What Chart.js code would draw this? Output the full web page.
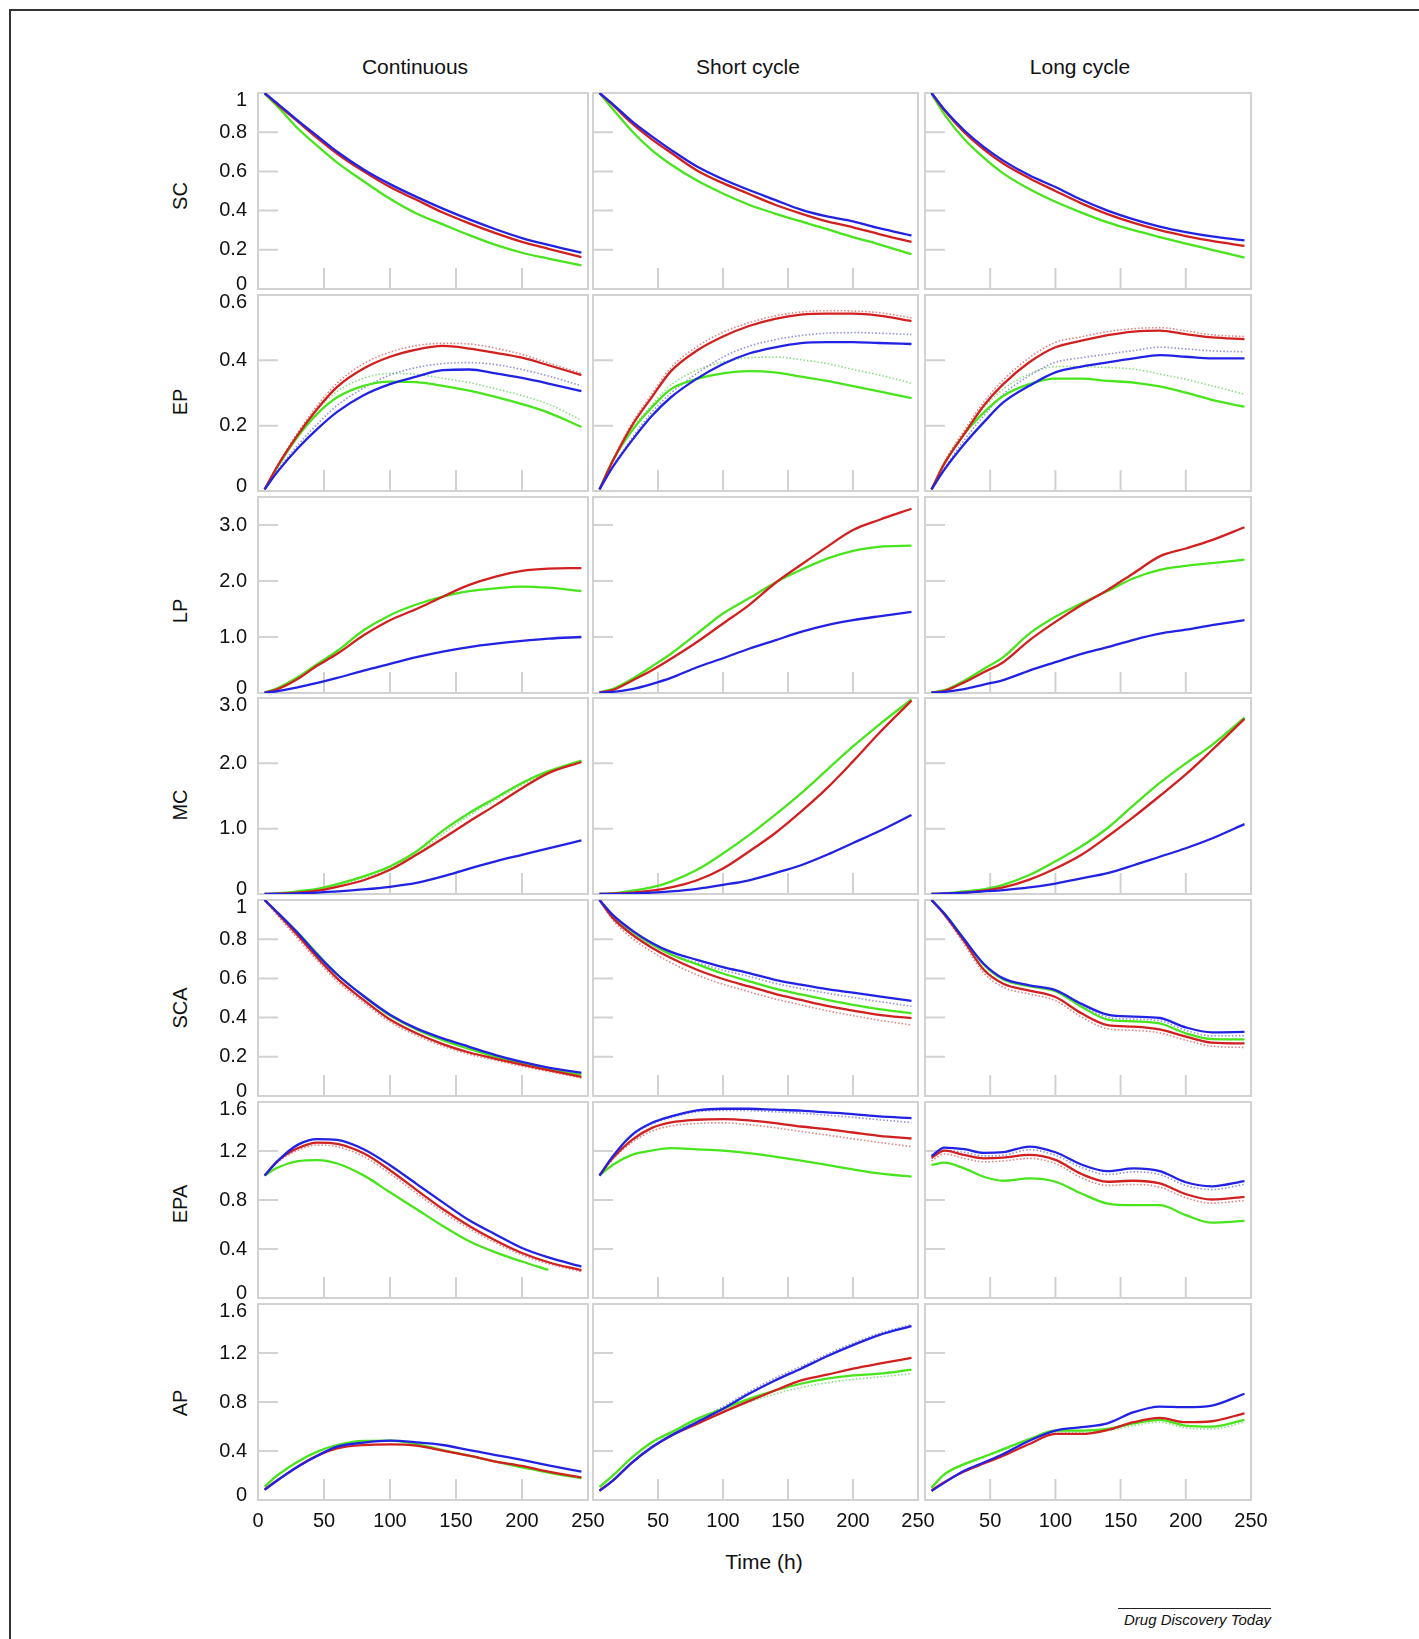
<!DOCTYPE html>
<html>
<head>
<meta charset="utf-8">
<title>Simulated populations</title>
<script src="https://cdn.jsdelivr.net/npm/chart.js@4.4.0/dist/chart.umd.min.js"></script>
<style>
  html, body { margin: 0; padding: 0; background: #fff; }
  body { width: 1419px; height: 1639px; position: relative; overflow: hidden;
         font-family: "Liberation Sans", Arial, Helvetica, sans-serif; color: #111; }
  #frame { position: absolute; left: 9px; top: 9px; width: 1420px; height: 1640px;
           border-top: 2px solid #333; border-left: 2px solid #333; }
  canvas.panel { position: absolute; }
  .lbl { position: absolute; white-space: nowrap; transform: translate(-50%, -50%); }
  .head { font-size: 21px; }
  .rowname { font-size: 20px; transform: translate(-50%, -50%) rotate(-90deg); }
  #footer { position: absolute; left: 1118px; top: 1608px; width: 153px; border-top: 1px solid #222;
            font-size: 15px; font-style: italic; text-align: right; padding-top: 2px; }
</style>
</head>
<body>
<div id="frame"></div>
<div class="lbl head" style="left:415px; top:67px">Continuous</div>
<div class="lbl head" style="left:748px; top:67px">Short cycle</div>
<div class="lbl head" style="left:1080px; top:67px">Long cycle</div>
<div class="lbl head" style="left:764px; top:1562px">Time (h)</div>
<div id="footer">Drug Discovery Today</div>

<script>
// sampling times (h), shared by every curve
const times = [5, 15, 30, 45, 60, 80, 100, 120, 140, 160, 180, 200, 220, 245];
const timeTicks = [0, 50, 100, 150, 200, 250];

const colNames = ['Continuous', 'Short cycle', 'Long cycle'];
const rowNames = ['SC', 'EP', 'LP', 'MC', 'SCA', 'EPA', 'AP'];
const rowMax = [1, 0.6, 3.5, 3, 1, 1.6, 1.6];

const scTicks = [0, 0.2, 0.4, 0.6, 0.8, 1];
const scTickLabels = ['0', '0.2', '0.4', '0.6', '0.8', '1'];
const epTicks = [0, 0.2, 0.4, 0.6];
const epTickLabels = ['0', '0.2', '0.4', '0.6'];
const lpTicks = [0, 1, 2, 3];
const lpTickLabels = ['0', '1.0', '2.0', '3.0'];
const epaTicks = [0, 0.4, 0.8, 1.2, 1.6];
const epaTickLabels = ['0', '0.4', '0.8', '1.2', '1.6'];

// 1 = continuous, 2 = short cycle, 3 = long cycle
// SC
const sc1Red   = [1.0, 0.94, 0.855, 0.77, 0.69, 0.6, 0.52, 0.455, 0.39, 0.335, 0.285, 0.24, 0.205, 0.163];
const sc1Blue  = [1.0, 0.945, 0.86, 0.78, 0.7, 0.61, 0.535, 0.47, 0.41, 0.355, 0.305, 0.26, 0.225, 0.185];
const sc1Green = [0.995, 0.93, 0.82, 0.73, 0.645, 0.55, 0.46, 0.385, 0.33, 0.275, 0.225, 0.185, 0.155, 0.12];
const sc2Red   = [1.0, 0.94, 0.845, 0.765, 0.695, 0.605, 0.54, 0.485, 0.43, 0.385, 0.345, 0.315, 0.28, 0.24];
const sc2Blue  = [1.0, 0.945, 0.855, 0.78, 0.71, 0.625, 0.56, 0.505, 0.455, 0.405, 0.37, 0.345, 0.31, 0.273];
const sc2Green = [1.0, 0.92, 0.805, 0.71, 0.635, 0.553, 0.487, 0.43, 0.385, 0.345, 0.305, 0.265, 0.228, 0.178];
const sc3Red   = [1.0, 0.91, 0.8, 0.712, 0.64, 0.565, 0.5, 0.437, 0.382, 0.337, 0.3, 0.27, 0.245, 0.22];
const sc3Blue  = [1.0, 0.915, 0.81, 0.725, 0.655, 0.58, 0.52, 0.455, 0.4, 0.355, 0.318, 0.29, 0.268, 0.248];
const sc3Green = [0.995, 0.89, 0.765, 0.67, 0.59, 0.51, 0.445, 0.39, 0.34, 0.3, 0.265, 0.232, 0.2, 0.16];

// EP
const ep1Red      = [0.005, 0.078, 0.171, 0.252, 0.319, 0.375, 0.411, 0.433, 0.444, 0.436, 0.423, 0.408, 0.385, 0.355];
const ep1RedDot   = [0.005, 0.08, 0.178, 0.262, 0.33, 0.39, 0.425, 0.445, 0.452, 0.45, 0.437, 0.418, 0.392, 0.36];
const ep1Blue     = [0.005, 0.06, 0.13, 0.19, 0.242, 0.293, 0.327, 0.35, 0.37, 0.372, 0.36, 0.346, 0.329, 0.306];
const ep1BlueDot  = [0.005, 0.064, 0.14, 0.205, 0.262, 0.315, 0.355, 0.378, 0.39, 0.393, 0.387, 0.372, 0.352, 0.322];
const ep1Green    = [0.005, 0.075, 0.166, 0.237, 0.287, 0.322, 0.335, 0.333, 0.322, 0.307, 0.288, 0.266, 0.24, 0.196];
const ep1GreenDot = [0.005, 0.078, 0.175, 0.25, 0.305, 0.345, 0.36, 0.357, 0.345, 0.332, 0.313, 0.292, 0.266, 0.217];
const ep2Red      = [0.005, 0.09, 0.2, 0.286, 0.367, 0.43, 0.473, 0.505, 0.527, 0.54, 0.543, 0.543, 0.537, 0.52];
const ep2RedDot   = [0.005, 0.093, 0.207, 0.295, 0.378, 0.442, 0.486, 0.515, 0.536, 0.548, 0.552, 0.551, 0.546, 0.53];
const ep2Blue     = [0.005, 0.072, 0.155, 0.229, 0.287, 0.344, 0.389, 0.421, 0.44, 0.453, 0.456, 0.456, 0.453, 0.45];
const ep2BlueDot  = [0.005, 0.075, 0.162, 0.24, 0.3, 0.36, 0.41, 0.443, 0.463, 0.476, 0.483, 0.485, 0.483, 0.479];
const ep2Green    = [0.005, 0.092, 0.185, 0.255, 0.312, 0.343, 0.36, 0.367, 0.363, 0.35, 0.337, 0.321, 0.305, 0.284];
const ep2GreenDot = [0.005, 0.094, 0.19, 0.262, 0.325, 0.37, 0.395, 0.408, 0.41, 0.402, 0.39, 0.372, 0.355, 0.33];
const ep3Red      = [0.005, 0.085, 0.174, 0.261, 0.327, 0.394, 0.44, 0.46, 0.477, 0.488, 0.491, 0.48, 0.47, 0.465];
const ep3RedDot   = [0.005, 0.09, 0.185, 0.272, 0.34, 0.408, 0.455, 0.472, 0.488, 0.497, 0.5, 0.49, 0.478, 0.473];
const ep3Blue     = [0.005, 0.066, 0.143, 0.21, 0.271, 0.322, 0.363, 0.381, 0.394, 0.406, 0.416, 0.411, 0.406, 0.406];
const ep3BlueDot  = [0.005, 0.07, 0.155, 0.23, 0.296, 0.353, 0.394, 0.408, 0.419, 0.43, 0.44, 0.435, 0.429, 0.426];
const ep3Green    = [0.005, 0.085, 0.174, 0.24, 0.291, 0.327, 0.344, 0.344, 0.337, 0.332, 0.32, 0.301, 0.279, 0.258];
const ep3GreenDot = [0.005, 0.087, 0.178, 0.255, 0.312, 0.358, 0.381, 0.381, 0.378, 0.373, 0.358, 0.342, 0.322, 0.296];

// LP
const lp1Red   = [0.006, 0.07, 0.25, 0.49, 0.7, 1.03, 1.3, 1.5, 1.72, 1.93, 2.08, 2.18, 2.22, 2.23];
const lp1Blue  = [0.005, 0.035, 0.1, 0.18, 0.27, 0.4, 0.52, 0.64, 0.74, 0.82, 0.88, 0.93, 0.97, 1.0];
const lp1Green = [0.01, 0.09, 0.28, 0.52, 0.75, 1.12, 1.39, 1.58, 1.72, 1.82, 1.87, 1.9, 1.88, 1.82];
const lp2Red   = [0.01, 0.05, 0.22, 0.4, 0.61, 0.91, 1.24, 1.57, 1.96, 2.29, 2.61, 2.91, 3.09, 3.29];
const lp2Blue  = [0.005, 0.02, 0.07, 0.16, 0.27, 0.46, 0.62, 0.79, 0.94, 1.09, 1.21, 1.3, 1.37, 1.45];
const lp2Green = [0.01, 0.07, 0.25, 0.47, 0.7, 1.06, 1.42, 1.69, 1.97, 2.2, 2.4, 2.54, 2.61, 2.63];
const lp3Red   = [0.01, 0.04, 0.19, 0.37, 0.55, 0.94, 1.27, 1.57, 1.84, 2.14, 2.44, 2.58, 2.73, 2.96];
const lp3Blue  = [0.005, 0.02, 0.07, 0.15, 0.23, 0.4, 0.55, 0.7, 0.82, 0.95, 1.06, 1.13, 1.21, 1.3];
const lp3Green = [0.01, 0.05, 0.22, 0.43, 0.64, 1.06, 1.36, 1.6, 1.82, 2.05, 2.2, 2.27, 2.32, 2.38];

// MC
const mc1Red      = [0, 0.005, 0.02, 0.05, 0.11, 0.21, 0.37, 0.6, 0.85, 1.11, 1.36, 1.62, 1.85, 2.02];
const mc1Blue     = [0, 0, 0.01, 0.02, 0.04, 0.07, 0.11, 0.17, 0.27, 0.39, 0.5, 0.6, 0.7, 0.82];
const mc1Green    = [0, 0.01, 0.04, 0.08, 0.15, 0.27, 0.42, 0.65, 0.97, 1.24, 1.47, 1.7, 1.88, 2.04];
const mc1GreenDot = [0, 0.01, 0.035, 0.07, 0.13, 0.245, 0.39, 0.61, 0.92, 1.2, 1.44, 1.67, 1.86, 2.02];
const mc2Red   = [0, 0.005, 0.02, 0.05, 0.1, 0.21, 0.39, 0.65, 0.93, 1.26, 1.62, 2.03, 2.46, 2.96];
const mc2Blue  = [0, 0, 0.01, 0.02, 0.04, 0.08, 0.14, 0.21, 0.32, 0.44, 0.6, 0.78, 0.96, 1.21];
const mc2Green = [0, 0.01, 0.05, 0.1, 0.19, 0.37, 0.62, 0.9, 1.21, 1.54, 1.9, 2.26, 2.59, 2.98];
const mc3Red   = [0, 0.005, 0.02, 0.05, 0.1, 0.22, 0.39, 0.6, 0.88, 1.18, 1.5, 1.83, 2.2, 2.68];
const mc3Blue  = [0, 0.01, 0.02, 0.04, 0.06, 0.1, 0.16, 0.24, 0.32, 0.44, 0.57, 0.7, 0.85, 1.07];
const mc3Green = [0, 0.01, 0.04, 0.07, 0.14, 0.29, 0.5, 0.73, 1.01, 1.36, 1.7, 2.0, 2.28, 2.7];

// SCA
const sca1Red    = [1.0, 0.93, 0.82, 0.705, 0.6, 0.49, 0.39, 0.32, 0.265, 0.222, 0.19, 0.16, 0.132, 0.098];
const sca1RedDot = [1.0, 0.92, 0.805, 0.69, 0.585, 0.477, 0.378, 0.309, 0.255, 0.213, 0.182, 0.152, 0.125, 0.092];
const sca1Blue   = [1.0, 0.935, 0.833, 0.72, 0.62, 0.51, 0.415, 0.345, 0.294, 0.251, 0.209, 0.174, 0.145, 0.118];
const sca1Green  = [1.0, 0.935, 0.835, 0.725, 0.62, 0.51, 0.41, 0.34, 0.285, 0.24, 0.2, 0.165, 0.135, 0.108];
const sca2Red     = [1.0, 0.91, 0.824, 0.758, 0.704, 0.644, 0.597, 0.559, 0.521, 0.49, 0.46, 0.436, 0.414, 0.397];
const sca2RedDot  = [1.0, 0.9, 0.805, 0.737, 0.68, 0.618, 0.57, 0.532, 0.495, 0.465, 0.435, 0.41, 0.387, 0.362];
const sca2Blue    = [1.0, 0.925, 0.845, 0.782, 0.735, 0.695, 0.658, 0.627, 0.593, 0.568, 0.545, 0.527, 0.508, 0.485];
const sca2BlueDot = [1.0, 0.92, 0.838, 0.772, 0.722, 0.68, 0.642, 0.61, 0.575, 0.548, 0.525, 0.503, 0.482, 0.458];
const sca2Green   = [1.0, 0.922, 0.84, 0.775, 0.722, 0.672, 0.625, 0.585, 0.548, 0.518, 0.49, 0.465, 0.443, 0.422];
const sca3Red     = [1.0, 0.925, 0.79, 0.645, 0.573, 0.538, 0.505, 0.422, 0.362, 0.354, 0.34, 0.303, 0.272, 0.268];
const sca3RedDot  = [1.0, 0.92, 0.775, 0.628, 0.555, 0.52, 0.487, 0.403, 0.343, 0.335, 0.322, 0.285, 0.254, 0.248];
const sca3Blue    = [1.0, 0.93, 0.8, 0.675, 0.6, 0.565, 0.54, 0.47, 0.415, 0.405, 0.398, 0.35, 0.325, 0.327];
const sca3BlueDot = [1.0, 0.93, 0.8, 0.672, 0.597, 0.562, 0.535, 0.46, 0.402, 0.392, 0.384, 0.335, 0.307, 0.308];
const sca3Green   = [1.0, 0.93, 0.8, 0.67, 0.595, 0.56, 0.535, 0.455, 0.39, 0.381, 0.37, 0.32, 0.29, 0.289];

// EPA
const epa1Red    = [1.0, 1.12, 1.222, 1.269, 1.258, 1.181, 1.043, 0.883, 0.726, 0.588, 0.469, 0.367, 0.292, 0.226];
const epa1RedDot = [1.0, 1.11, 1.205, 1.248, 1.235, 1.155, 1.015, 0.856, 0.702, 0.566, 0.451, 0.352, 0.28, 0.215];
const epa1Blue   = [1.0, 1.12, 1.25, 1.297, 1.29, 1.214, 1.084, 0.932, 0.781, 0.634, 0.519, 0.408, 0.331, 0.257];
const epa1Green  = [1.0, 1.065, 1.117, 1.126, 1.098, 1.001, 0.863, 0.726, 0.588, 0.463, 0.372, 0.298, 0.229, null];
const epa2Red     = [1.0, 1.14, 1.291, 1.387, 1.433, 1.455, 1.46, 1.45, 1.428, 1.4, 1.378, 1.351, 1.324, 1.302];
const epa2RedDot  = [1.0, 1.13, 1.27, 1.36, 1.405, 1.425, 1.43, 1.415, 1.39, 1.36, 1.33, 1.3, 1.27, 1.236];
const epa2Blue    = [1.0, 1.154, 1.332, 1.428, 1.482, 1.532, 1.545, 1.545, 1.537, 1.529, 1.515, 1.501, 1.482, 1.469];
const epa2BlueDot = [1.0, 1.15, 1.325, 1.42, 1.472, 1.52, 1.532, 1.53, 1.52, 1.508, 1.492, 1.475, 1.455, 1.433];
const epa2Green   = [1.0, 1.086, 1.168, 1.203, 1.223, 1.214, 1.203, 1.182, 1.154, 1.121, 1.086, 1.05, 1.017, 0.99];
const epa3Red     = [1.146, 1.203, 1.168, 1.14, 1.146, 1.168, 1.127, 1.012, 0.949, 0.957, 0.935, 0.848, 0.804, 0.826];
const epa3RedDot  = [1.12, 1.175, 1.14, 1.112, 1.118, 1.14, 1.097, 0.982, 0.919, 0.927, 0.905, 0.818, 0.774, 0.796];
const epa3Blue    = [1.16, 1.228, 1.215, 1.185, 1.19, 1.236, 1.19, 1.09, 1.035, 1.058, 1.035, 0.945, 0.912, 0.955];
const epa3BlueDot = [1.14, 1.205, 1.19, 1.16, 1.165, 1.21, 1.165, 1.065, 1.008, 1.03, 1.008, 0.918, 0.885, 0.928];
const epa3Green   = [1.086, 1.105, 1.058, 0.99, 0.957, 0.976, 0.949, 0.853, 0.771, 0.758, 0.758, 0.676, 0.615, 0.629];

// AP
const ap1Red   = [0.087, 0.163, 0.272, 0.362, 0.422, 0.449, 0.454, 0.444, 0.403, 0.362, 0.313, 0.278, 0.231, 0.185];
const ap1Blue  = [0.082, 0.163, 0.272, 0.362, 0.435, 0.468, 0.484, 0.471, 0.449, 0.408, 0.367, 0.327, 0.283, 0.231];
const ap1Green = [0.109, 0.204, 0.313, 0.395, 0.449, 0.482, 0.484, 0.457, 0.408, 0.362, 0.313, 0.267, 0.223, 0.177];
const ap2Red      = [0.079, 0.156, 0.306, 0.429, 0.525, 0.621, 0.717, 0.807, 0.894, 0.976, 1.023, 1.072, 1.113, 1.16];
const ap2Blue     = [0.074, 0.156, 0.306, 0.429, 0.525, 0.635, 0.744, 0.867, 0.976, 1.072, 1.173, 1.264, 1.346, 1.42];
const ap2BlueDot  = [0.074, 0.158, 0.31, 0.435, 0.535, 0.65, 0.762, 0.885, 0.995, 1.09, 1.19, 1.28, 1.36, 1.432];
const ap2Green    = [0.107, 0.197, 0.347, 0.47, 0.552, 0.662, 0.744, 0.826, 0.894, 0.949, 0.99, 1.017, 1.031, 1.064];
const ap2GreenDot = [0.107, 0.197, 0.34, 0.46, 0.54, 0.645, 0.725, 0.8, 0.865, 0.918, 0.957, 0.985, 1.005, 1.031];
const ap3Red      = [0.079, 0.148, 0.232, 0.298, 0.361, 0.457, 0.539, 0.539, 0.572, 0.635, 0.67, 0.635, 0.643, 0.708];
const ap3Blue     = [0.074, 0.142, 0.238, 0.306, 0.375, 0.484, 0.566, 0.594, 0.626, 0.717, 0.763, 0.758, 0.771, 0.867];
const ap3Green    = [0.101, 0.211, 0.293, 0.353, 0.415, 0.497, 0.566, 0.566, 0.58, 0.626, 0.654, 0.607, 0.599, 0.654];
const ap3GreenDot = [0.101, 0.205, 0.285, 0.345, 0.405, 0.487, 0.555, 0.553, 0.565, 0.608, 0.635, 0.588, 0.58, 0.635];

const rowTicks = [scTicks, epTicks, lpTicks, lpTicks, scTicks, epaTicks, epaTicks];
const rowTickLabels = [scTickLabels, epTickLabels, lpTickLabels, lpTickLabels, scTickLabels, epaTickLabels, epaTickLabels];

// rows x columns table of the series drawn in each panel
const panels = [
  [{red: sc1Red, blue: sc1Blue, green: sc1Green},
   {red: sc2Red, blue: sc2Blue, green: sc2Green},
   {red: sc3Red, blue: sc3Blue, green: sc3Green}],
  [{red: ep1Red, blue: ep1Blue, green: ep1Green, redDot: ep1RedDot, blueDot: ep1BlueDot, greenDot: ep1GreenDot},
   {red: ep2Red, blue: ep2Blue, green: ep2Green, redDot: ep2RedDot, blueDot: ep2BlueDot, greenDot: ep2GreenDot},
   {red: ep3Red, blue: ep3Blue, green: ep3Green, redDot: ep3RedDot, blueDot: ep3BlueDot, greenDot: ep3GreenDot}],
  [{red: lp1Red, blue: lp1Blue, green: lp1Green},
   {red: lp2Red, blue: lp2Blue, green: lp2Green},
   {red: lp3Red, blue: lp3Blue, green: lp3Green}],
  [{red: mc1Red, blue: mc1Blue, green: mc1Green, greenDot: mc1GreenDot},
   {red: mc2Red, blue: mc2Blue, green: mc2Green},
   {red: mc3Red, blue: mc3Blue, green: mc3Green}],
  [{red: sca1Red, blue: sca1Blue, green: sca1Green, redDot: sca1RedDot},
   {red: sca2Red, blue: sca2Blue, green: sca2Green, redDot: sca2RedDot, blueDot: sca2BlueDot},
   {red: sca3Red, blue: sca3Blue, green: sca3Green, redDot: sca3RedDot, blueDot: sca3BlueDot}],
  [{red: epa1Red, blue: epa1Blue, green: epa1Green, redDot: epa1RedDot},
   {red: epa2Red, blue: epa2Blue, green: epa2Green, redDot: epa2RedDot, blueDot: epa2BlueDot},
   {red: epa3Red, blue: epa3Blue, green: epa3Green, redDot: epa3RedDot, blueDot: epa3BlueDot}],
  [{red: ap1Red, blue: ap1Blue, green: ap1Green},
   {red: ap2Red, blue: ap2Blue, green: ap2Green, blueDot: ap2BlueDot, greenDot: ap2GreenDot},
   {red: ap3Red, blue: ap3Blue, green: ap3Green, greenDot: ap3GreenDot}]
];

const colours = {
  red: '#d12020', blue: '#2222e4', green: '#48e41c',
  redDot: 'rgba(215, 90, 90, 0.75)', blueDot: 'rgba(110, 110, 205, 0.75)', greenDot: 'rgba(110, 215, 100, 0.8)'
};

// panel boxes on the page
const colLeft = [258, 593, 925];
const colRight = [588, 918, 1251];
const rowTop0 = 93, rowPitch = 201.8, rowH = 195.5;
const rowLabelY = [196, 402, 611, 805, 1008, 1204, 1403];
const FONT = '"Liberation Sans", Arial, Helvetica, sans-serif';

function lineSet(vals, key) {
  const dotted = key.endsWith('Dot');
  return {
    data: vals.map((v, i) => ({x: times[i], y: v})),
    borderColor: colours[key],
    borderWidth: dotted ? 1.6 : 2.3,
    borderDash: dotted ? [1.5, 2] : [],
    fill: false,
    pointRadius: 0,
    cubicInterpolationMode: 'monotone',
    spanGaps: false
  };
}

// box, inner tick marks and tick labels
const panelDecor = {
  id: 'panelDecor',
  beforeDatasetsDraw(chart, args, opts) {
    const ctx = chart.ctx, a = chart.chartArea;
    const xs = chart.scales.x, ys = chart.scales.y;
    ctx.save();
    ctx.strokeStyle = '#d2d2d2';
    ctx.lineWidth = 2;
    ctx.strokeRect(a.left, a.top, a.right - a.left, a.bottom - a.top);
    ctx.beginPath();
    rowTicks[opts.row].forEach(v => {
      if (v <= ys.min || v >= ys.max) return;
      const py = ys.getPixelForValue(v);
      ctx.moveTo(a.left, py); ctx.lineTo(a.left + 20, py);
    });
    timeTicks.forEach(v => {
      if (v <= xs.min || v >= xs.max) return;
      const px = xs.getPixelForValue(v);
      ctx.moveTo(px, a.bottom); ctx.lineTo(px, a.bottom - 21);
    });
    ctx.stroke();
    ctx.restore();
  },
  afterDraw(chart, args, opts) {
    const ctx = chart.ctx, a = chart.chartArea;
    const xs = chart.scales.x, ys = chart.scales.y;
    ctx.save();
    ctx.fillStyle = '#111';
    ctx.font = '20px ' + FONT;
    if (opts.col === 0) {
      ctx.textAlign = 'right';
      ctx.textBaseline = 'middle';
      rowTicks[opts.row].forEach((v, i) => {
        let py = ys.getPixelForValue(v);
        if (v === ys.min) py -= 5;
        if (v === ys.max) py += 7;
        ctx.fillText(rowTickLabels[opts.row][i], a.left - 11, py);
      });
    }
    if (opts.row === rowNames.length - 1) {
      ctx.textAlign = 'center';
      ctx.textBaseline = 'middle';
      timeTicks.forEach(v => {
        if (opts.col > 0 && v === 0) return;
        ctx.fillText(String(v), xs.getPixelForValue(v), a.bottom + 21);
      });
    }
    ctx.restore();
  }
};

rowNames.forEach((name, r) => {
  const div = document.createElement('div');
  div.className = 'lbl rowname';
  div.style.left = '180px';
  div.style.top = rowLabelY[r] + 'px';
  div.textContent = name;
  document.body.appendChild(div);

  colNames.forEach((cname, c) => {
    const padL = c === 0 ? 110 : 30, padR = 30, padT = 20;
    const padB = r === rowNames.length - 1 ? 45 : 20;
    const top = rowTop0 + r * rowPitch;
    const w = colRight[c] - colLeft[c];
    const cv = document.createElement('canvas');
    cv.className = 'panel';
    cv.width = Math.round(w + padL + padR);
    cv.height = Math.round(rowH + padT + padB);
    cv.style.left = (colLeft[c] - padL) + 'px';
    cv.style.top = Math.round(top - padT) + 'px';
    document.body.appendChild(cv);

    const s = panels[r][c];
    const datasets = ['blue', 'red', 'green', 'redDot', 'blueDot', 'greenDot']
      .filter(k => s[k]).map(k => lineSet(s[k], k));

    new Chart(cv, {
      type: 'line',
      data: {datasets},
      options: {
        responsive: false,
        animation: false,
        events: [],
        layout: {padding: {left: padL, right: padR, top: padT, bottom: cv.height - padT - Math.round(rowH)}},
        plugins: {
          legend: {display: false},
          tooltip: {enabled: false},
          panelDecor: {row: r, col: c}
        },
        scales: {
          x: {type: 'linear', min: 0, max: 250, display: false},
          y: {type: 'linear', min: 0, max: rowMax[r], display: false}
        }
      },
      plugins: [panelDecor]
    });
  });
});
</script>
</body>
</html>
